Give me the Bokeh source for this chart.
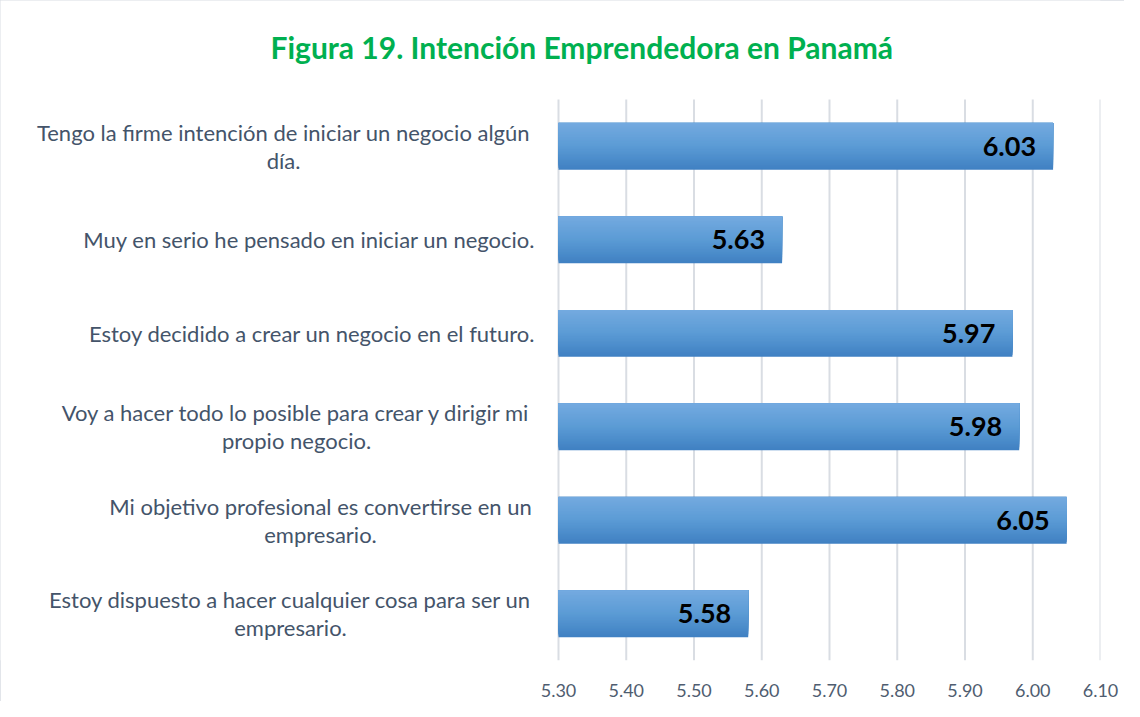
from bokeh.plotting import figure
from bokeh.models import Range1d, FixedTicker, NumeralTickFormatter, ColumnDataSource, Label
from bokeh.embed import file_html
from bokeh.resources import INLINE
from bokeh.core.properties import value

title = "Figura 19. Intención Emprendedora en Panamá"
categories = [
    ["Tengo la firme intención de iniciar un negocio algún", "día."],
    ["Muy en serio he pensado en iniciar un negocio."],
    ["Estoy decidido a crear un negocio en el futuro."],
    ["Voy a hacer todo lo posible para crear y dirigir mi", "propio negocio."],
    ["Mi objetivo profesional es convertirse en un", "empresario."],
    ["Estoy dispuesto a hacer cualquier cosa para ser un", "empresario."],
]
values = [6.03, 5.63, 5.97, 5.98, 6.05, 5.58]
x_ticks = [5.30, 5.40, 5.50, 5.60, 5.70, 5.80, 5.90, 6.00, 6.10]
axis_min, axis_max = 5.30, 6.10

# layout (canvas px)
W, H = 1124, 701
AXIS_LEFT, AXIS_RIGHT, PLOT_TOP, PLOT_BOTTOM = 558, 1100, 99, 660
label_right = 535
block_centers = [283, None, None, 296, 320, 290]
TITLE_LEFT, TITLE_Y = 270, 46

FONT = "Lato"
n = len(categories)
pos = [n - 1 - i for i in range(n)]

# the frame spans the label and title areas too
units_per_px = (axis_max - axis_min) / (AXIS_RIGHT - AXIS_LEFT)
x_start = axis_min - AXIS_LEFT * units_per_px
cat_per_px = n / (PLOT_BOTTOM - PLOT_TOP)
y_end = (n - 0.5) + PLOT_TOP * cat_per_px

p = figure(width=W, height=H, output_backend="svg", toolbar_location=None,
           x_range=Range1d(x_start, axis_max), y_range=Range1d(-0.5, y_end),
           y_axis_location=None,
           min_border_left=0, min_border_top=0, min_border_right=W - AXIS_RIGHT,
           min_border_bottom=H - PLOT_BOTTOM)
p.outline_line_color = None
p.background_fill_color = "white"
p.border_fill_color = "white"
p.styles = {"outline": "1px solid #d9dde3", "outline-offset": "-1px"}
p.xgrid.grid_line_color = None
p.ygrid.grid_line_color = None

# vertical gridlines only over the plot area
p.segment(x0=x_ticks, x1=x_ticks, y0=[-0.5] * len(x_ticks), y1=[n - 0.5] * len(x_ticks),
          line_color="#d9dde3", line_width=2)

# gradient bars: nested rectangles anchored at bar top, darkest (full) first
def hx(c):
    return tuple(int(c[i:i + 2], 16) for i in (1, 3, 5))
top_c, mid_c, bot_c = hx("#74aae0"), hx("#5b9bd5"), hx("#3f80c2")
steps = 30
bar_h = 0.5
ys, rights, lefts, hs, cols = [], [], [], [], []
for y, v in zip(pos, values):
    top = y + bar_h / 2
    for j in range(steps, 0, -1):
        t = (j - 0.5) / steps  # 0 top -> 1 bottom
        if t < 0.5:
            a, b, f = top_c, mid_c, t / 0.5
        else:
            a, b, f = mid_c, bot_c, (t - 0.5) / 0.5
        c = tuple(int(round(a[k] + (b[k] - a[k]) * f)) for k in range(3))
        cols.append("#%02x%02x%02x" % c)
        h = j * bar_h / steps
        ys.append(top - h / 2)
        hs.append(h)
        lefts.append(axis_min)
        rights.append(v)
p.hbar(y=ys, left=lefts, right=rights, height=hs, fill_color=cols, line_color=None)

src = ColumnDataSource(dict(y=pos, x=values, t=["%.2f" % v for v in values]))
p.text(x="x", y="y", text="t", source=src, x_offset=-17, text_align="right",
       text_baseline="middle", text_font=value(FONT), text_font_style="bold",
       text_font_size="27px", text_color="black")

# x axis
p.xaxis.ticker = FixedTicker(ticks=x_ticks)
p.xaxis.formatter = NumeralTickFormatter(format="0.00")
p.xaxis.axis_line_color = None
p.xaxis.major_tick_line_color = None
p.xaxis.minor_tick_line_color = None
p.xaxis.major_label_text_font = FONT
p.xaxis.major_label_text_font_size = "18px"
p.xaxis.major_label_text_color = "#4f5d70"
p.xaxis.major_label_standoff = 17

# category labels
for y, lines, cx in zip(pos, categories, block_centers):
    if len(lines) == 1:
        p.add_layout(Label(x=axis_min, y=y, x_offset=label_right - AXIS_LEFT,
                           text=lines[0], text_align="right", text_baseline="middle",
                           text_font=FONT, text_font_size="22px", text_color="#44546a"))
    else:
        for k, ln in enumerate(lines):
            p.add_layout(Label(x=axis_min, y=y, x_offset=cx - AXIS_LEFT,
                               y_offset=14 - 28 * k,
                               text=ln, text_align="center", text_baseline="middle",
                               text_font=FONT, text_font_size="22px", text_color="#44546a"))

# title
p.add_layout(Label(x=axis_min, y=y_end, x_offset=TITLE_LEFT - AXIS_LEFT, y_offset=-TITLE_Y,
                   text=title, text_align="left", text_baseline="middle",
                   text_font=FONT, text_font_style="bold", text_font_size="30px",
                   text_color="#00B050"))

open("out.html", "w").write(file_html(p, INLINE))
